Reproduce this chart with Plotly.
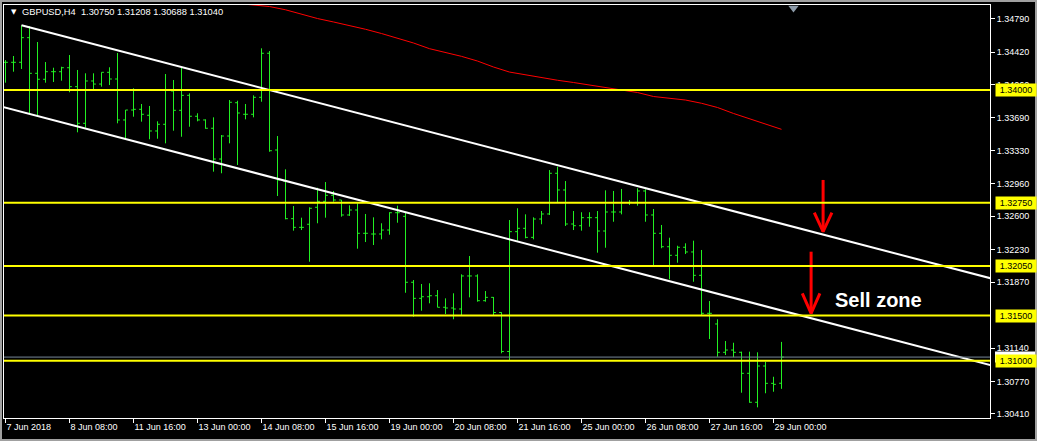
import plotly.graph_objects as go

# ---------------- data (GBPUSD H4, bar index 0 = 7 Jun 2018 00:00) ----------------
opens = [1.34307, 1.34307, 1.34307, 1.34580, 1.34185, 1.34119, 1.34203, 1.34203, 1.34247, 1.34037,
         1.33631, 1.34100, 1.34066, 1.34196, 1.34122, 1.33668, 1.33778, 1.33786, 1.33720, 1.33546,
         1.33620, 1.33989, 1.33775, 1.33941, 1.33709, 1.33668, 1.33576, 1.33235, 1.33490, 1.33859,
         1.33731, 1.33731, 1.33919, 1.34407, 1.33335, 1.32991, 1.32574, 1.32478, 1.32512, 1.32700,
         1.32766, 1.32833, 1.32781, 1.32615, 1.32670, 1.32412, 1.32404, 1.32404, 1.32448, 1.32640,
         1.32600, 1.31869, 1.31691, 1.31709, 1.31720, 1.31592, 1.31584, 1.31573, 1.31939, 1.31939,
         1.31665, 1.31702, 1.31534, 1.31102, 1.32430, 1.32467, 1.32367, 1.32570, 1.32626, 1.33077,
         1.32892, 1.32515, 1.32496, 1.32585, 1.32585, 1.32437, 1.32648, 1.32648, 1.32751, 1.32755,
         1.32881, 1.32615, 1.32412, 1.32263, 1.32168, 1.32257, 1.32205, 1.31946, 1.31525, 1.31407,
         1.31093, 1.31118, 1.31093, 1.30860, 1.30539, 1.30941, 1.30749, 1.30750]
highs = [1.34332, 1.34377, 1.34717, 1.34709, 1.34532, 1.34310, 1.34247, 1.34258, 1.34388, 1.34222,
         1.34185, 1.34185, 1.34196, 1.34252, 1.34410, 1.33778, 1.34019, 1.33845, 1.33823, 1.33653,
         1.34177, 1.34111, 1.34247, 1.33963, 1.33742, 1.33675, 1.33697, 1.33501, 1.33889, 1.33881,
         1.33845, 1.33941, 1.34462, 1.34432, 1.33490, 1.33121, 1.32714, 1.32585, 1.32700, 1.32917,
         1.32980, 1.32881, 1.32781, 1.32722, 1.32744, 1.32626, 1.32589, 1.32523, 1.32645, 1.32718,
         1.32640, 1.31894, 1.31850, 1.31858, 1.31783, 1.31691, 1.31747, 1.31957, 1.32160, 1.31957,
         1.31772, 1.31706, 1.31536, 1.32559, 1.32689, 1.32622, 1.32589, 1.32659, 1.33113, 1.33150,
         1.32991, 1.32659, 1.32645, 1.32645, 1.32659, 1.32888, 1.32881, 1.32903, 1.32781, 1.32911,
         1.32900, 1.32681, 1.32504, 1.32363, 1.32274, 1.32301, 1.32330, 1.32227, 1.31661, 1.31459,
         1.31218, 1.31199, 1.31100, 1.31100, 1.31093, 1.30989, 1.30822, 1.31208]
lows = [1.34081, 1.34203, 1.34233, 1.33742, 1.33723, 1.34081, 1.34089, 1.34103, 1.33975, 1.33531,
        1.33582, 1.34011, 1.34037, 1.34055, 1.33631, 1.33446, 1.33704, 1.33649, 1.33454, 1.33460,
        1.33409, 1.33549, 1.33482, 1.33593, 1.33653, 1.33571, 1.33095, 1.33077, 1.33409, 1.33169,
        1.33675, 1.33697, 1.33870, 1.33316, 1.32825, 1.32567, 1.32441, 1.32448, 1.32097, 1.32523,
        1.32585, 1.32762, 1.32596, 1.32604, 1.32241, 1.32315, 1.32282, 1.32345, 1.32396, 1.32529,
        1.31753, 1.31487, 1.31554, 1.31636, 1.31592, 1.31517, 1.31459, 1.31506, 1.31702, 1.31654,
        1.31654, 1.31495, 1.31082, 1.30998, 1.32330, 1.32356, 1.32345, 1.32512, 1.32615, 1.32755,
        1.32493, 1.32448, 1.32441, 1.32485, 1.32197, 1.32252, 1.32540, 1.32622, 1.32725, 1.32718,
        1.32540, 1.32049, 1.32246, 1.31902, 1.32086, 1.32182, 1.31875, 1.31495, 1.31240, 1.31044,
        1.31063, 1.31038, 1.30645, 1.30534, 1.30483, 1.30639, 1.30656, 1.30688]
closes = [1.34307, 1.34307, 1.34580, 1.34185, 1.34119, 1.34203, 1.34203, 1.34247, 1.34037, 1.33631,
          1.34100, 1.34066, 1.34196, 1.34122, 1.33668, 1.33778, 1.33786, 1.33731, 1.33546, 1.33620,
          1.34000, 1.33775, 1.33941, 1.33709, 1.33668, 1.33576, 1.33235, 1.33490, 1.33864, 1.33745,
          1.33731, 1.33919, 1.34407, 1.33327, 1.33003, 1.32574, 1.32478, 1.32478, 1.32689, 1.32766,
          1.32833, 1.32781, 1.32615, 1.32670, 1.32412, 1.32412, 1.32404, 1.32448, 1.32640, 1.32640,
          1.31869, 1.31691, 1.31709, 1.31720, 1.31592, 1.31584, 1.31573, 1.31939, 1.31939, 1.31665,
          1.31702, 1.31534, 1.31102, 1.32430, 1.32467, 1.32367, 1.32570, 1.32626, 1.33077, 1.32892,
          1.32515, 1.32496, 1.32585, 1.32585, 1.32437, 1.32648, 1.32648, 1.32751, 1.32755, 1.32881,
          1.32615, 1.32412, 1.32263, 1.32168, 1.32257, 1.32205, 1.31946, 1.31525, 1.31525, 1.31093,
          1.31118, 1.31093, 1.30860, 1.30539, 1.30941, 1.30749, 1.30738, 1.31040]

# moving average (red) read at selected bars
ma_idx = [29, 31, 33, 35, 37, 39, 41, 43, 45, 47, 49, 51, 53, 55, 57, 59, 61, 63, 65, 67,
          69, 71, 73, 75, 77, 79, 81, 83, 85, 87, 89, 91, 93, 95, 97]
ma_vals = [1.34959, 1.34942, 1.34925, 1.34889, 1.34837, 1.34792, 1.34754, 1.34715, 1.34673, 1.34626,
           1.34574, 1.34521, 1.34458, 1.34416, 1.34373, 1.34321, 1.34255, 1.34199, 1.34166, 1.34133,
           1.34108, 1.34083, 1.34055, 1.34028, 1.34000, 1.33972, 1.33928, 1.33906, 1.33889, 1.33853,
           1.33806, 1.33740, 1.33679, 1.33623, 1.33564]

# trend channel (bar index, price)
upper_ch_x = [2, 124]
upper_ch_y = [1.34717, 1.31893]
lower_ch_x = [-1, 124]
lower_ch_y = [1.33827, 1.30931]

# horizontal levels
levels = [1.34000, 1.32750, 1.32050, 1.31500, 1.31000]
bid_price = 1.31040

# axes
tick_idx = [0, 8, 16, 24, 32, 40, 48, 56, 64, 72, 80, 88, 96]
tick_labels = ["7 Jun 2018", "8 Jun 08:00", "11 Jun 16:00", "13 Jun 00:00", "14 Jun 08:00",
               "15 Jun 16:00", "19 Jun 00:00", "20 Jun 08:00", "21 Jun 16:00", "25 Jun 00:00",
               "26 Jun 08:00", "27 Jun 16:00", "29 Jun 00:00"]
price_ticks = [1.34790, 1.34420, 1.34060, 1.33690, 1.33330, 1.32960, 1.32600, 1.32230,
               1.31870, 1.31140, 1.30770, 1.30410]

# arrows (bar index, price): top of shaft, tip, wing height
arrow1 = dict(x=102.2, top=1.33003, tip=1.32430, wing=1.32640, half=1.1)
arrow2 = dict(x=100.7, top=1.32208, tip=1.31525, wing=1.31747, half=1.1)
sell_text_pos = (109.1, 1.31673)

title_text = "GBPUSD,H4  1.30750 1.31208 1.30688 1.31040"

X_RANGE = [-0.1875, 123.0625]
Y_RANGE = [1.303648, 1.349421]

GREEN = "#22f022"
FONT = "Liberation Sans"

fig = go.Figure()

fig.add_trace(go.Ohlc(
    x=list(range(len(opens))), open=opens, high=highs, low=lows, close=closes,
    increasing=dict(line=dict(color=GREEN, width=1)),
    decreasing=dict(line=dict(color=GREEN, width=1)),
    tickwidth=0.3, hoverinfo="skip", showlegend=False))

fig.add_trace(go.Scatter(x=ma_idx, y=ma_vals, mode="lines",
                         line=dict(color="#ff0000", width=1), hoverinfo="skip"))

fig.add_trace(go.Scatter(x=upper_ch_x, y=upper_ch_y, mode="lines",
                         line=dict(color="white", width=2), hoverinfo="skip"))
fig.add_trace(go.Scatter(x=lower_ch_x, y=lower_ch_y, mode="lines",
                         line=dict(color="white", width=2), hoverinfo="skip"))

for a in (arrow1, arrow2):
    fig.add_trace(go.Scatter(
        x=[a["x"], a["x"], None, a["x"] - a["half"], a["x"], a["x"] + a["half"]],
        y=[a["top"], a["tip"], None, a["wing"], a["tip"], a["wing"]],
        mode="lines", line=dict(color="#ff0000", width=3), hoverinfo="skip"))

# chart-shift marker
fig.add_trace(go.Scatter(x=[98.5], y=[1.34909], mode="markers",
                         marker=dict(symbol="triangle-down", size=9, color="#8c9aa8"),
                         cliponaxis=False, hoverinfo="skip"))

PX = (Y_RANGE[1] - Y_RANGE[0]) / 413.0  # one pixel in price units

shapes = []
# bid line
shapes.append(dict(type="line", xref="paper", x0=0, x1=1, yref="y", y0=bid_price, y1=bid_price,
                   line=dict(color="#778899", width=1), layer="above"))
for lv in levels:
    shapes.append(dict(type="line", xref="paper", x0=0, x1=1, yref="y", y0=lv, y1=lv,
                       line=dict(color="#ffff00", width=2), layer="above"))
# bid price label box (almost hidden behind the 1.31000 label)
shapes.append(dict(type="rect", xref="paper", yref="y",
                   x0=1 + 5 / 986, x1=1 + 45 / 986,
                   y0=bid_price - 5.5 * PX, y1=bid_price + 5.5 * PX,
                   line=dict(width=0), fillcolor="white", layer="above"))
# outer window frame
shapes.append(dict(type="rect", xref="paper", yref="paper",
                   x0=-4 / 986, x1=1 + 47 / 986, y0=-23 / 413, y1=1 + 5 / 413,
                   line=dict(color="#a0a0a0", width=4), layer="above"))

annotations = []
annotations.append(dict(xref="paper", yref="paper", x=(9 - 4) / 986, y=1 - (12 - 5) / 413,
                        text="▼", showarrow=False, xanchor="left", yanchor="middle",
                        font=dict(family="DejaVu Sans", size=7, color="white")))
annotations.append(dict(xref="paper", yref="paper", x=(20 - 4) / 986, y=1 - (12 - 5) / 413,
                        text=title_text, showarrow=False, xanchor="left", yanchor="middle",
                        font=dict(family=FONT, size=9.3, color="white")))
for lv in levels:
    annotations.append(dict(xref="paper", yref="y", x=1, y=lv, xanchor="left", xshift=5,
                            text=f"{lv:.5f}", showarrow=False, bgcolor="#ffff00",
                            width=38, height=10, borderpad=1,
                            font=dict(family=FONT, size=9, color="black")))
annotations.append(dict(x=sell_text_pos[0], y=sell_text_pos[1], xref="x", yref="y",
                        text="<b>Sell zone</b>", showarrow=False,
                        font=dict(family=FONT, size=20, color="white")))

fig.update_layout(
    width=1037, height=441,
    margin=dict(l=4, r=47, t=5, b=23, pad=0),
    paper_bgcolor="black", plot_bgcolor="black",
    showlegend=False,
    shapes=shapes, annotations=annotations,
    xaxis=dict(range=X_RANGE, tickmode="array", tickvals=tick_idx, ticktext=tick_labels,
               ticks="outside", ticklen=4, tickcolor="white", tickwidth=1,
               ticklabelposition="outside right",
               tickfont=dict(family=FONT, size=9, color="white"),
               showgrid=False, zeroline=False, showline=True, linecolor="white",
               linewidth=1, mirror=True, rangeslider=dict(visible=False)),
    yaxis=dict(side="right", range=Y_RANGE, tickmode="array", tickvals=price_ticks,
               ticktext=[f"{v:.5f}" for v in price_ticks],
               ticks="outside", ticklen=4, tickcolor="white", tickwidth=1,
               tickfont=dict(family=FONT, size=9, color="white"),
               showgrid=False, zeroline=False, showline=True, linecolor="white",
               linewidth=1, mirror=True, automargin=False),
)

fig.write_html(
    "out.html",
    config={"displayModeBar": False},
    post_script="document.body.style.margin='0';document.body.style.padding='0';"
                "document.body.style.background='black';document.body.style.overflow='hidden';",
)
